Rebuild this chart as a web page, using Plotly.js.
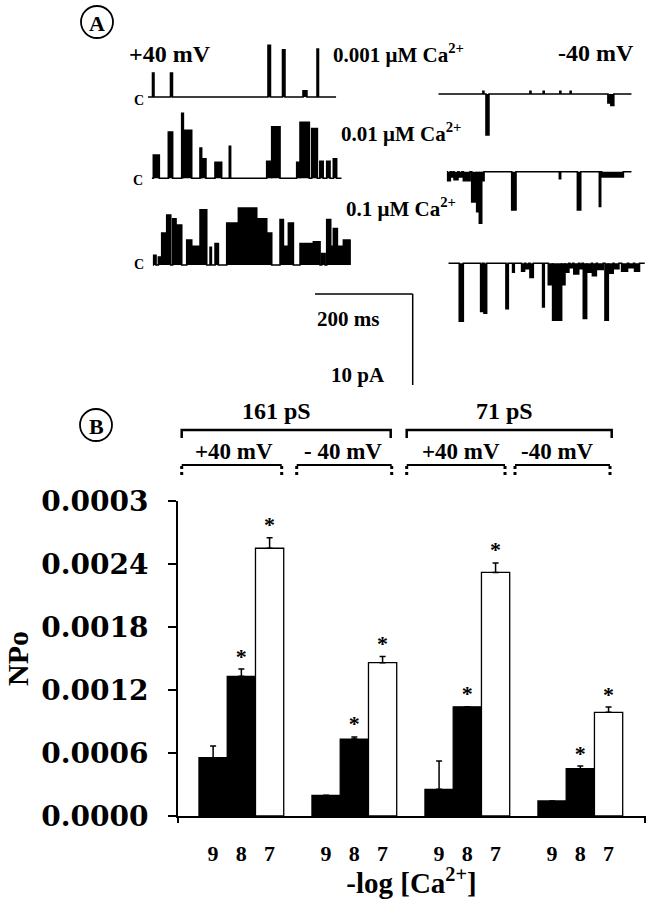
<!DOCTYPE html>
<html><head><meta charset="utf-8">
<script src="https://cdn.plot.ly/plotly-3.0.1.min.js"></script>
<style>html,body{margin:0;padding:0;background:#fff}</style>
</head><body><div id="chart" style="width:654px;height:899px"></div>
<script>
// ================= DATA =================
// Panel B: NPo vs -log[Ca2+]
const groupLabels = ['161 pS +40 mV', '161 pS -40 mV', '71 pS +40 mV', '71 pS -40 mV'];
const logCa = ['9', '8', '7'];
const npo_9 = [0.000555, 0.000197, 0.000254, 0.000143];
const npo_8 = [0.00133, 0.000733, 0.00104, 0.00045];
const npo_7 = [0.00255, 0.00146, 0.00232, 0.000987];
const se_9 = [0.000112, 0, 0.00027, 0];
const se_8 = [0.00007, 0.00002, 0, 0.000026];
const se_7 = [0.0001, 0.00006, 0.00009, 0.00005];
const sig_9 = [false, false, false, false];
const sig_8 = [true, true, true, true];
const sig_7 = [true, true, true, true];
const yTickVals = [0, 0.0006, 0.0012, 0.0018, 0.0024, 0.003];
const yTickText = ['0.0000', '0.0006', '0.0012', '0.0018', '0.0024', '0.0003'];

// Panel A: single-channel records, events = [start ms, duration ms, amplitude pA]
const recLabels = ['+40 mV 0.001', '+40 mV 0.01', '+40 mV 0.1', '-40 mV 0.001', '-40 mV 0.01', '-40 mV 0.1'];
const recDurations = [384, 387.6, 404, 394.5, 377.4, 401];
const rec_p40_0001 = [[9.2,3,2.7],[45.9,4,2.7],[244.8,5,5.8],[274.4,5,5.3],[316.2,8,0.7],[344.8,3,5.4]];
const rec_p40_001 = [[3.3,12.2,2.6],[33.9,8.8,5.2],[61.2,3.4,7.3],[64.6,17,5.4],[98.5,3.4,3.4],[101.9,8.8,2.2],[129.1,13.6,1.8],[158.3,2.7,3.6],[234.6,10.2,1.9],[244.8,17,5.8],[295.8,6.8,1.8],[302.6,19,6.3],[326.4,11.6,5.6],[343,6.8,1.9],[357,6.8,1.9],[370.5,6.8,2.2]];
const rec_p40_01 = [[1.4,5.4,1.1],[11.6,6.8,0.9],[18.4,10.2,3.6],[28.6,8.2,5.6],[40.8,6.8,5.2],[49,10.2,4.5],[69.4,10.2,2.8],[79.6,17,2.1],[96.6,13.6,6.2],[117,2.7,2.0],[127.2,6.8,2.4],[151,23.8,4.7],[174.8,37.4,6.4],[212.2,20.4,5.2],[232.6,10.2,3.6],[259.8,6.8,5.1],[266.6,10.2,2.1],[276.8,10.2,4.7],[300.6,27.2,2.4],[327.8,13.6,2.6],[344.8,6.8,1.3],[355,8.1,5.1],[363.1,5.5,2.1],[368.6,8.1,4.1],[376.7,12.3,2.1],[389,15,2.8]];
const rec_m40_0001 = [[91,2,0.3],[97.3,6,-4.6],[187,2,0.3],[214,2,0.3],[248,2,0.3],[269,2,0.3],[346,6,-1.0],[352,6,-1.3]];
const rec_m40_001 = [[1.4,6,-1.0],[9,4,-0.6],[15,8,-0.9],[25,6,-0.6],[34,13.6,-1.0],[51,10.2,-3.4],[61.2,5.4,-4.5],[66.6,4.8,-5.8],[71.4,4.8,-1.0],[132.6,8.8,-4.3],[229.8,2.7,-0.8],[266.6,6.8,-4.3],[311.4,2.7,-3.9],[316.2,44.2,-0.6]];
const rec_m40_01 = [[22.4,8.2,-6.5],[66,4.1,-5.4],[72.8,5.4,-5.6],[117.6,4.8,-5.1],[131.2,3.4,-1.0],[149.6,6,-0.9],[158,6,-0.6],[166.6,6.8,-1.6],[192.4,3.4,-4.9],[204,8.8,-2.4],[212.8,18.4,-6.4],[231.2,6.8,-2.4],[238,8,-1.0],[248,6,-0.5],[256,10,-1.2],[268,5,-0.6],[275.4,6.8,-6.2],[282.2,10,-1.0],[294,8,-1.4],[304,12,-0.7],[319.6,6.8,-6.4],[326.4,10,-1.1],[338,10,-0.6],[353.6,12,-0.9],[368,10,-0.5],[380,10,-0.9]];
const recEvents = [rec_p40_0001, rec_p40_001, rec_p40_01, rec_m40_0001, rec_m40_001, rec_m40_01];
const caText = ['0.001 μM Ca<sup>2+</sup>', '0.01 μM Ca<sup>2+</sup>', '0.1 μM Ca<sup>2+</sup>'];

// ================= LAYOUT HELPERS =================
const W = 654, H = 899;
const PX = x => x / W;
const PY = y => 1 - y / H;
const SERIF = '"Liberation Serif", "Times New Roman", serif';
const WIDE = '"DejaVu Serif", serif';
const f = (size, fam) => ({family: fam || SERIF, size: size, color: 'black', weight: 700});

// record placement (pixel origin of each record and its baseline) and scale
const MS_PER_PX = 2.04;   // 200 ms scale bar ~ 98 px
const PX_PER_PA = 8.9;    // 10 pA scale bar ~ 89 px
const recPlace = [
  {x: 148, y: 97, lo: -1, hi: 8}, {x: 151.7, y: 178.3, lo: -1, hi: 8}, {x: 152.7, y: 265, lo: -1, hi: 8},
  {x: 438.3, y: 94, lo: -8, hi: 1}, {x: 446.7, y: 171.7, lo: -8, hi: 1}, {x: 448.3, y: 263.3, lo: -8, hi: 1}
];

const data = [];
const layout = {
  width: W, height: H, margin: {l: 0, r: 0, t: 0, b: 0},
  paper_bgcolor: 'white', plot_bgcolor: 'rgba(0,0,0,0)',
  showlegend: false, barmode: 'overlay', font: f(20),
  annotations: [], shapes: []
};

// ================= PANEL B bars =================
const levels = [
  {v: npo_9, se: se_9, sig: sig_9, fill: 'black'},
  {v: npo_8, se: se_8, sig: sig_8, fill: 'black'},
  {v: npo_7, se: se_7, sig: sig_7, fill: 'white'}
];
const tickvals = [], ticktext = [];
groupLabels.forEach((g, gi) => logCa.forEach((c, li) => { tickvals.push(gi * 4 + li); ticktext.push(c); }));
const starX = [], starY = [];
levels.forEach((L, li) => {
  const xs = groupLabels.map((g, gi) => gi * 4 + li);
  data.push({
    type: 'bar', x: xs, y: L.v, width: 1, name: '-log[Ca] = ' + logCa[li],
    marker: {color: L.fill, line: {color: 'black', width: 1.3}},
    error_y: {type: 'data', symmetric: false, array: L.se, arrayminus: L.se.map(() => 0),
              color: 'black', thickness: 1.5, width: 3},
    hoverinfo: 'skip', xaxis: 'x', yaxis: 'y'
  });
  xs.forEach((x, gi) => { if (L.sig[gi]) { starX.push(x); starY.push(L.v[gi] + L.se[gi]); } });
});
// significance stars
data.push({type: 'scatter', mode: 'text', x: starX, y: starY, text: starX.map(() => '*'),
  textposition: 'top center', textfont: f(22), hoverinfo: 'skip', xaxis: 'x', yaxis: 'y', cliponaxis: false});

layout.xaxis = {
  domain: [PX(178), PX(645)], range: [-1.243, 15.29], anchor: 'y',
  tickmode: 'array', tickvals: tickvals, ticktext: ticktext,
  ticks: 'outside', ticklen: 17, tickcolor: 'rgba(0,0,0,0)',
  showline: true, linewidth: 2, linecolor: 'black', showgrid: false, zeroline: false,
  tickfont: f(22), fixedrange: true,
  title: {text: '-log [Ca<sup>2+</sup>]', font: f(29), standoff: 10}
};
layout.yaxis = {
  domain: [PY(816), PY(501)], range: [0, 0.003], anchor: 'x',
  tickmode: 'array', tickvals: yTickVals, ticktext: yTickText,
  ticks: 'outside', ticklen: 8, tickwidth: 2, tickcolor: 'black',
  showline: true, linewidth: 2, linecolor: 'black', showgrid: false, zeroline: false,
  tickfont: f(28, WIDE), ticklabelstandoff: 14, fixedrange: true,
  title: {text: 'NPo', font: f(30), standoff: 4}
};

// small axis end details
const L = (x0, y0, x1, y1, w, dash) => ({type: 'line', xref: 'paper', yref: 'paper',
  x0: PX(x0), y0: PY(y0), x1: PX(x1), y1: PY(y1), line: {color: 'black', width: w, dash: dash || 'solid'}});
layout.shapes.push(L(173, 816, 178, 816, 2), L(178, 816, 178, 823, 2), L(645, 816, 645, 823, 2));

// brackets
const path = (x0, x1, top, bot) => ({type: 'path', xref: 'paper', yref: 'paper',
  path: `M ${PX(x0)},${PY(bot)} L ${PX(x0)},${PY(top)} L ${PX(x1)},${PY(top)} L ${PX(x1)},${PY(bot)}`,
  line: {color: 'black', width: 2.5}});
layout.shapes.push(path(181.7, 390.7, 430, 438), path(406.7, 611.7, 430, 438));
[[181.7, 281.7], [296.7, 391.7], [406.7, 505], [515, 610]].forEach(([a, b]) => {
  layout.shapes.push(L(a, 465, b, 465, 2.2));
  layout.shapes.push(L(a, 466, a, 478, 3, 'dot'), L(b, 466, b, 478, 3, 'dot'));
});
const T = (text, cx, cy, size, fam) => layout.annotations.push({text: text, x: PX(cx), y: PY(cy),
  xref: 'paper', yref: 'paper', xanchor: 'center', yanchor: 'middle', showarrow: false, font: f(size, fam)});
T('161 pS', 276, 411, 24); T('71 pS', 504, 411, 24);
T('+40 mV', 234, 451, 23); T('- 40 mV', 343, 451, 23); T('+40 mV', 461, 451, 23); T('-40 mV', 557, 451, 23);

// circled panel letters
const circ = (cx, cy, r) => ({type: 'circle', xref: 'paper', yref: 'paper',
  x0: PX(cx - r), x1: PX(cx + r), y0: PY(cy + r), y1: PY(cy - r), line: {color: 'black', width: 1.8}});
layout.shapes.push(circ(97, 22, 16), circ(96, 425, 16));
T('A', 97, 23, 22); T('B', 96, 426, 22);

// ================= PANEL A records =================
recEvents.forEach((ev, i) => {
  const dur = recDurations[i];
  const xs = [0], ys = [0];
  ev.forEach(([s, d, a]) => { xs.push(s, s, s + d, s + d); ys.push(0, a, a, 0); });
  xs.push(dur); ys.push(0);
  const n = i + 2, P = recPlace[i];
  data.push({type: 'scatter', mode: 'lines', x: xs, y: ys, name: recLabels[i],
    line: {color: 'black', width: 1.6}, fill: 'tozeroy', fillcolor: 'black',
    hoverinfo: 'skip', xaxis: 'x' + n, yaxis: 'y' + n});
  layout['xaxis' + n] = {domain: [PX(P.x), PX(P.x + dur / MS_PER_PX)], range: [0, dur],
    visible: false, fixedrange: true, anchor: 'y' + n};
  layout['yaxis' + n] = {domain: [PY(P.y - P.lo * PX_PER_PA), PY(P.y - P.hi * PX_PER_PA)],
    range: [P.lo, P.hi], visible: false, fixedrange: true, anchor: 'x' + n};
});
// closed-level markers
T('C', 139, 100, 14); T('C', 138, 180, 14); T('C', 139, 265, 14);
// labels
T('+40 mV', 170, 54, 24); T('-40 mV', 596, 53, 24);
T(caText[0], 398, 53, 21); T(caText[1], 401, 133, 21); T(caText[2], 401, 208, 21);
// scale bar
layout.shapes.push(L(315, 294, 412.7, 294, 1.5), L(412.7, 294, 412.7, 385, 1.5));
T('200 ms', 348, 319, 21); T('10 pA', 357.5, 375, 21);

Plotly.newPlot('chart', data, layout, {staticPlot: true, displayModeBar: false});
</script>
</body></html>
